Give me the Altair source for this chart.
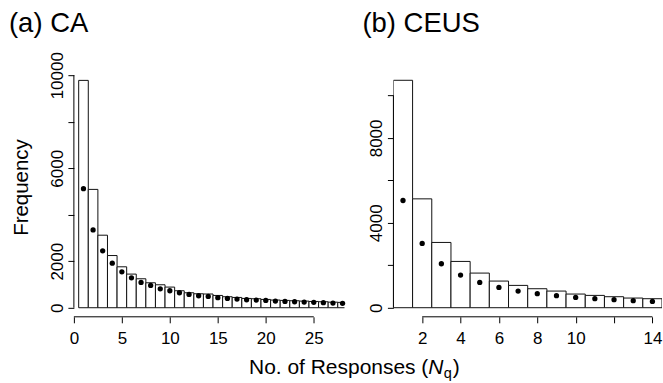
import altair as alt
import pandas as pd

# ---------------- data ----------------
ca_n = list(range(1, 29))
ca_obs = [9780, 5090, 3120, 2245, 1760, 1446, 1245, 1073, 987, 888, 730, 644, 600, 590,
          528, 472, 442, 400, 386, 357, 330, 315, 300, 285, 270, 257, 240, 230]
ca_fit = [5120, 3348, 2446, 1918, 1545, 1288, 1087, 958, 815, 730, 644, 572, 515, 485,
          430, 400, 372, 343, 330, 315, 285, 270, 257, 243, 230, 215, 200, 190]

ceus_n = list(range(1, 15))
ceus_obs = [10715, 5129, 3075, 2180, 1631, 1255, 1051, 894, 784, 643, 580, 518, 455, 424]
ceus_fit = [5051, 3028, 2071, 1537, 1192, 957, 784, 659, 565, 486, 424, 376, 329, 298]

ca_xticks = [0, 5, 10, 15, 20, 25]
ca_yticks = [0, 2000, 4000, 6000, 8000, 10000]
ca_ylabels = [0, 2000, 6000, 10000]
ceus_xticks = [2, 4, 6, 8, 10, 12, 14]
ceus_xlabels = [2, 4, 6, 8, 10, 14]
ceus_yticks = [0, 2000, 4000, 6000, 8000, 10000]
ceus_ylabels = [0, 4000, 8000]

xtitle_parts = ["No. of Responses (", "N", "q", ")"]

FONT = "Liberation Sans"
H = 246
WL = 271
WR = 269
TICK_FS = 17
TITLE_FS = 27.5


def label_expr(vals):
    cond = " || ".join(f"datum.value == {v}" for v in vals)
    return f"({cond}) ? datum.label : ''"


def panel(n, obs, fit, xdom, ydom, xticks, xlabels, yticks, ylabels,
          xline, yline, ylabpad, ytitle):
    df = pd.DataFrame({"n": n, "obs": obs, "fit": fit})
    xs = alt.Scale(domain=xdom, nice=False, zero=False)
    ys = alt.Scale(domain=ydom, nice=False, zero=False)
    xaxis = alt.Axis(values=xticks, labelExpr=label_expr(xlabels), format="d",
                     grid=False, domain=False, tickSize=6, tickColor="black",
                     tickWidth=1, labelPadding=21, labelBaseline="alphabetic",
                     labelFontSize=TICK_FS, labelFont=FONT, labelColor="black",
                     labelFlush=False, labelOverlap=False)
    yargs = dict(values=yticks, labelExpr=label_expr(ylabels), format="d",
                 grid=False, domain=False, tickSize=6, tickColor="black",
                 tickWidth=1, labelPadding=ylabpad, labelAngle=270,
                 labelAlign="center", labelBaseline="alphabetic",
                 labelFontSize=TICK_FS, labelFont=FONT, labelColor="black",
                 labelFlush=False, labelOverlap=False)
    if ytitle:
        yargs.update(title=ytitle, titleAngle=270, titleX=-46, titleY=116,
                     titleAlign="center", titleBaseline="alphabetic",
                     titleFontSize=20.5, titleFont=FONT, titleFontWeight="normal",
                     titleColor="black")
    yaxis = alt.Axis(**yargs)

    base = alt.Chart(df)
    bars = base.transform_calculate(
        lo="datum.n - 0.5", hi="datum.n + 0.5"
    ).mark_bar(fill="white", stroke="#111", strokeWidth=1, clip=True).encode(
        x=alt.X("lo:Q", scale=xs, axis=xaxis, title=None),
        x2="hi:Q",
        y=alt.Y("obs:Q", scale=ys, axis=yaxis, title=ytitle if ytitle else None),
        y2=alt.datum(0),
    )
    pts = base.mark_circle(size=28, color="black", opacity=1).encode(
        x="n:Q", y="fit:Q"
    )
    xl = alt.Chart(pd.DataFrame({"a": [xline[0]], "b": [xline[1]]})).mark_rule(
        color="black", strokeWidth=1
    ).encode(x="a:Q", x2="b:Q", y=alt.value(H))
    yl = alt.Chart(pd.DataFrame({"a": [yline[0]], "b": [yline[1]]})).mark_rule(
        color="black", strokeWidth=1
    ).encode(y="a:Q", y2="b:Q", x=alt.value(0))
    return [bars, pts, xl, yl]


# ---------------- left panel ----------------
left_layers = panel(ca_n, ca_obs, ca_fit, [0, 28.2], [-391, 10176],
                    ca_xticks, ca_xticks, ca_yticks, ca_ylabels,
                    (0, 25), (0, 10000), 5, "Frequency")

# x-axis title made of pieces (italic N, subscript q)
def piece(txt, x, y, size, style="normal", align="left"):
    return alt.Chart(pd.DataFrame({"t": [txt]})).mark_text(
        font=FONT, fontSize=size, fontStyle=style, align=align,
        baseline="alphabetic", color="black").encode(
        text="t:N", x=alt.value(x), y=alt.value(y))

t1 = piece(xtitle_parts[0], 355, 303, 21, align="right")
t2 = piece(xtitle_parts[1], 355, 303, 21, style="italic")
t3 = piece(xtitle_parts[2], 370.5, 307, 14.5)
t4 = piece(xtitle_parts[3], 379.5, 303, 21)

left = alt.layer(*left_layers, t1, t2, t3, t4).properties(
    width=WL, height=H,
    title=alt.TitleParams("(a) CA", anchor="start", frame="group", dx=-65,
                          offset=-8, baseline="alphabetic", fontSize=TITLE_FS,
                          font=FONT, fontWeight="normal", color="black"),
)

# ---------------- right panel ----------------
right_layers = panel(ceus_n, ceus_obs, ceus_fit, [0.5, 14.5], [-429, 11144],
                     ceus_xticks, ceus_xlabels, ceus_yticks, ceus_ylabels,
                     (2, 14), (0, 10000), 6, None)
right = alt.layer(*right_layers).properties(
    width=WR, height=H,
    title=alt.TitleParams("(b) CEUS", anchor="start", frame="group", dx=-31,
                          offset=12, baseline="alphabetic", fontSize=TITLE_FS,
                          font=FONT, fontWeight="normal", color="black"),
)

chart = alt.hconcat(left, right, spacing=49, bounds="flush").properties(
    padding={"left": 8, "top": 9, "right": 0, "bottom": 0},
    background="white",
).configure_view(stroke="transparent")

chart.save("out.html", embed_options={"renderer": "svg", "actions": False})
